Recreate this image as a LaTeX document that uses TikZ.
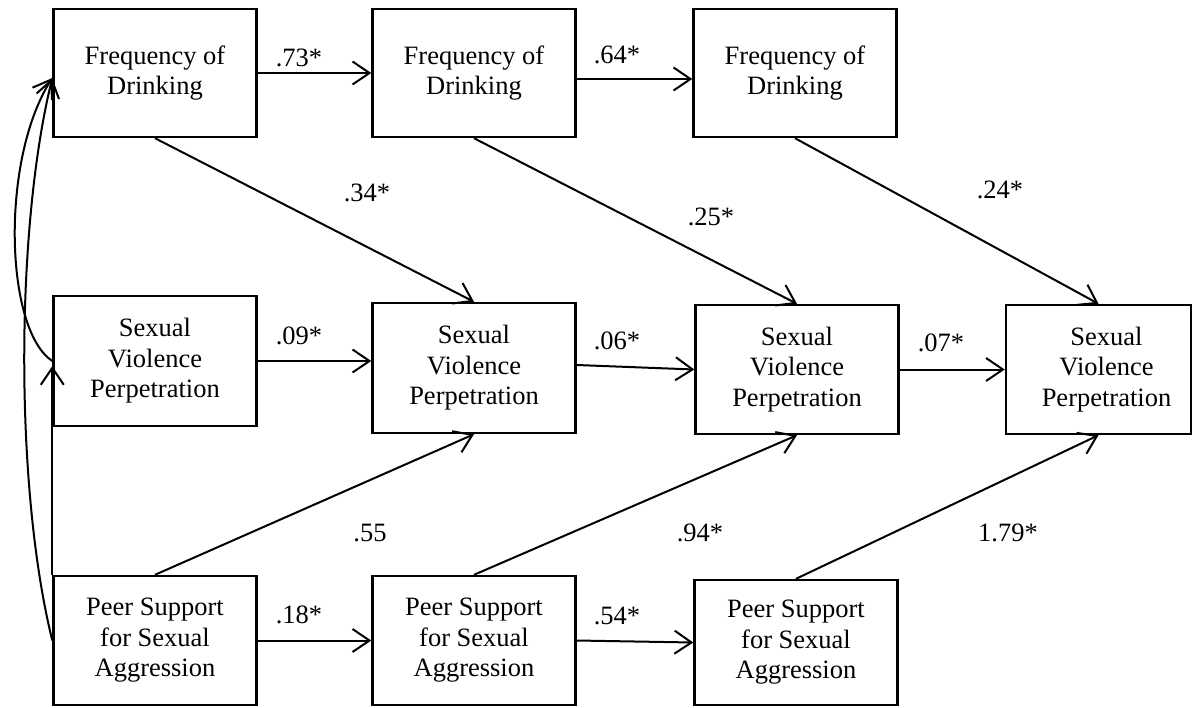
\documentclass[tikz,border=0pt]{standalone}
\usepackage{fontspec}
\setmainfont{Liberation Serif}
\usetikzlibrary{arrows.meta,calc}
\newcommand\figfont{\fontsize{26.5}{30.5}\selectfont}
\tikzset{
  varbox/.style={draw, line width=2.4pt, minimum width=203pt, minimum height=128pt,
    align=center, inner sep=0pt, font=\figfont},
  link/.style={line width=2pt, -{Straight Barb[length=17pt,width=23pt]}},
  covlink/.style={line width=2pt, {Straight Barb[length=17pt,width=23pt]}-},
  coef/.style={inner sep=0pt, font=\figfont},
}
\begin{document}
\begin{tikzpicture}[x=1pt,y=-1pt]
\useasboundingbox (0,0) rectangle (1199,707);

% wave 1-3: frequency of drinking
\node[varbox] (F1) at (155,73) {Frequency of\\Drinking};
\node[varbox] (F2) at (474,73) {Frequency of\\Drinking};
\node[varbox] (F3) at (795,73) {Frequency of\\Drinking};

% wave 1-4: sexual violence perpetration
\node[varbox, minimum height=130pt] (SV1) at (155,361) {Sexual\\Violence\\Perpetration};
\node[varbox, minimum height=130pt] (SV2) at (474,368) {Sexual\\Violence\\Perpetration};
\node[varbox, minimum height=129pt] (SV3) at (797,369.5) {Sexual\\Violence\\Perpetration};
\node[varbox, minimum height=129pt, minimum width=185pt] (SV4) at (1098.5,369.5)
  {\hspace*{16pt}\begin{tabular}{@{}c@{}}Sexual\\Violence\\Perpetration\end{tabular}};

% wave 1-3: peer support for sexual aggression
\node[varbox, minimum height=129pt] (P1) at (155,640.5) {Peer Support\\for Sexual\\Aggression};
\node[varbox, minimum height=129pt] (P2) at (474,640.5) {Peer Support\\for Sexual\\Aggression};
\node[varbox, minimum height=125pt] (P3) at (796,642.5) {Peer Support\\for Sexual\\Aggression};

% autoregressive paths
\draw[link] (F1.east) -- (F2.west);
\draw[link] ([yshift=-6pt]F2.east) -- ([yshift=-6pt]F3.west);
\draw[link] (SV1.east) -- (SV1.east -| SV2.west);
\draw[link] ([yshift=3pt]SV2.east) -- (SV3.west);
\draw[link] (SV3.east) -- (SV4.west);
\draw[link] (P1.east) -- (P2.west);
\draw[link] (P2.east) -- (P3.west);

% cross-lagged paths
\draw[link] (F1.south) -- (SV2.north);
\draw[link] (F2.south) -- (SV3.north);
\draw[link] (F3.south) -- (SV4.north);
\draw[link] (P1.north) -- (SV2.south);
\draw[link] (P2.north) -- (SV3.south);
\draw[link] (P3.north) -- (SV4.south);

% wave 1 covariances
\draw[covlink] ([yshift=-5pt]F1.west) .. controls (0,160) and (5,330) .. (SV1.west);
\draw[covlink] ([yshift=-5pt]F1.west) .. controls (15,230) and (15,490) .. (P1.west);
\draw[link] (P1.north west) -- ([yshift=-5pt]SV1.west);

% path coefficients
\node[coef] (c73) at (299,58) {.73*};
\node[coef] (c64) at (617,55) {.64*};
\node[coef] (c34) at (367,193) {.34*};
\node[coef] (c25) at (711,217) {.25*};
\node[coef] (c24) at (1000,190) {.24*};
\node[coef] (c09) at (299,336) {.09*};
\node[coef] (c06) at (617,341) {.06*};
\node[coef] (c07) at (941,343) {.07*};
\node[coef] (c55) at (370,533) {.55};
\node[coef] (c94) at (700,533) {.94*};
\node[coef] (c179) at (1008,533) {1.79*};
\node[coef] (c18) at (299,615) {.18*};
\node[coef] (c54) at (617,616) {.54*};
\end{tikzpicture}
\end{document}
